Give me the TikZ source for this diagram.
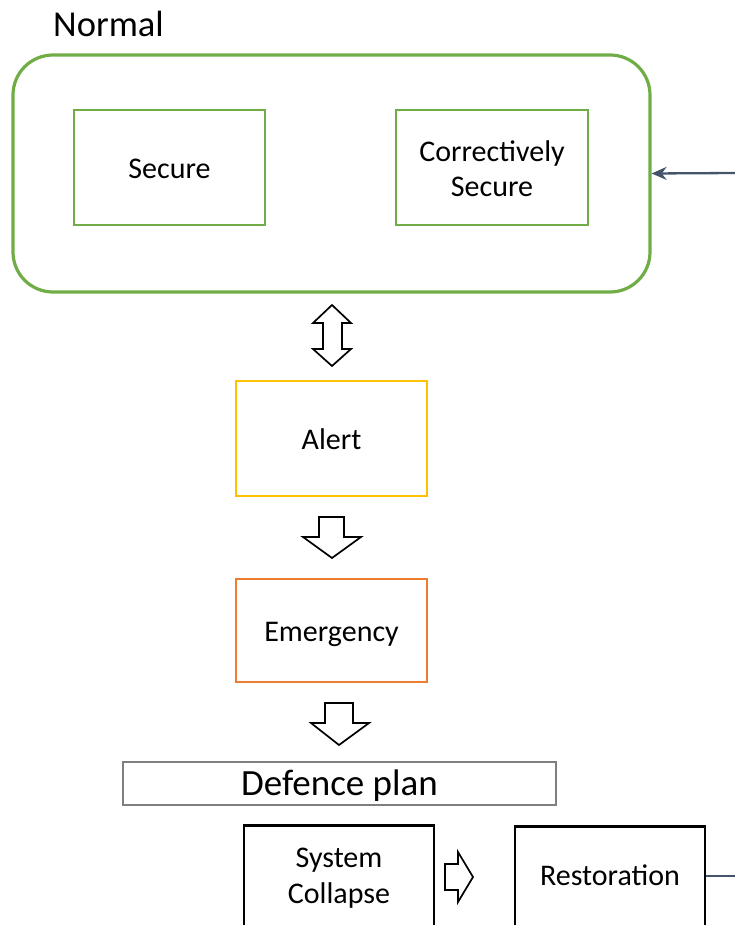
\documentclass[tikz,border=0pt]{standalone}
\usepackage{fontspec}
\setmainfont{Carlito}
\usetikzlibrary{arrows.meta}
\definecolor{grn}{HTML}{70AD47}
\definecolor{gold}{HTML}{FFC000}
\definecolor{orng}{HTML}{ED7D31}
\definecolor{gry}{HTML}{7F7F7F}
\definecolor{slate}{HTML}{44546A}
\tikzset{
  statebox/.style={draw, line width=2.8pt, minimum width=#1, inner sep=0pt},
  lbl/.style={font=\fontsize{30}{35}\selectfont, anchor=base, inner sep=0pt},
  blockarrow/.style={draw=black, fill=white, line width=1.7pt, line join=miter},
  link/.style={draw=slate, line width=2.3pt}
}
\begin{document}
\begin{tikzpicture}[x=1pt, y=-1pt]
\useasboundingbox (0,0) rectangle (735,925);

% Normal group
\node[font=\fontsize{36.5}{42}\selectfont, anchor=base west, inner sep=0pt] (normallbl) at (53,37) {Normal};
\node[draw=grn, line width=3.2pt, rounded corners=40pt, minimum width=637pt, minimum height=237pt]
  (normal) at (331.5,173.5) {};
\node[statebox=191pt, draw=grn, minimum height=115pt] (secure) at (169.5,167.5) {};
\node[lbl] (securetxt) at (169.5,179) {Secure};
\node[statebox=192pt, draw=grn, minimum height=115pt] (corr) at (492,167.5) {};
\node[lbl] (corrtxt1) at (492,162) {Correctively};
\node[lbl] (corrtxt2) at (492,197) {Secure};

% Double block arrow between Normal and Alert
\path[blockarrow] (332,305) -- (351,323) -- (342,323) -- (342,349) -- (351,349) -- (332,366)
  -- (313,349) -- (323,349) -- (323,323) -- (313,323) -- cycle;

\node[statebox=191pt, draw=gold, minimum height=115pt] (alert) at (331.5,438.5) {};
\node[lbl] (alerttxt) at (331.5,449) {Alert};

% Block arrow Alert -> Emergency
\path[blockarrow] (319,517) -- (344,517) -- (344,537) -- (361,537) -- (332,558)
  -- (303,537) -- (319,537) -- cycle;

\node[statebox=191pt, draw=orng, minimum height=103pt] (emerg) at (331.5,630.5) {};
\node[lbl] (emergtxt) at (331.5,641) {Emergency};

% Block arrow Emergency -> Defence plan
\path[blockarrow] (325,703) -- (353,703) -- (353,723) -- (369,723) -- (339,745)
  -- (311,723) -- (325,723) -- cycle;

\node[draw=gry, line width=2.2pt, minimum width=433pt, minimum height=43pt, inner sep=0pt] (defence) at (339.5,783.5) {};
\node[lbl, font=\fontsize{37}{42}\selectfont] (defencetxt) at (339.5,795) {Defence plan};

% Bottom row
\node[statebox=190pt, draw=black, minimum height=140pt, anchor=north] (collapse) at (339,824) {};
\node[lbl] (collapsetxt1) at (339,867) {System};
\node[lbl] (collapsetxt2) at (339,903) {Collapse};
\node[statebox=190pt, draw=black, minimum height=140pt, anchor=north] (restore) at (610,825) {};
\node[lbl] (restoretxt) at (610,885) {Restoration};

% Block arrow System Collapse -> Restoration
\path[blockarrow] (445,864) -- (458,864) -- (458,852) -- (473,877) -- (458,902)
  -- (458,890) -- (445,890) -- cycle;

% Return link from Restoration back to Normal
\coordinate (retin) at (735,173);
\coordinate (retout) at (735,876);
\draw[link, -{Stealth[length=15pt,width=13pt]}] (retin) -- (normal.east);
\draw[link] (restore.east |- retout) -- (retout);
\end{tikzpicture}
\end{document}
